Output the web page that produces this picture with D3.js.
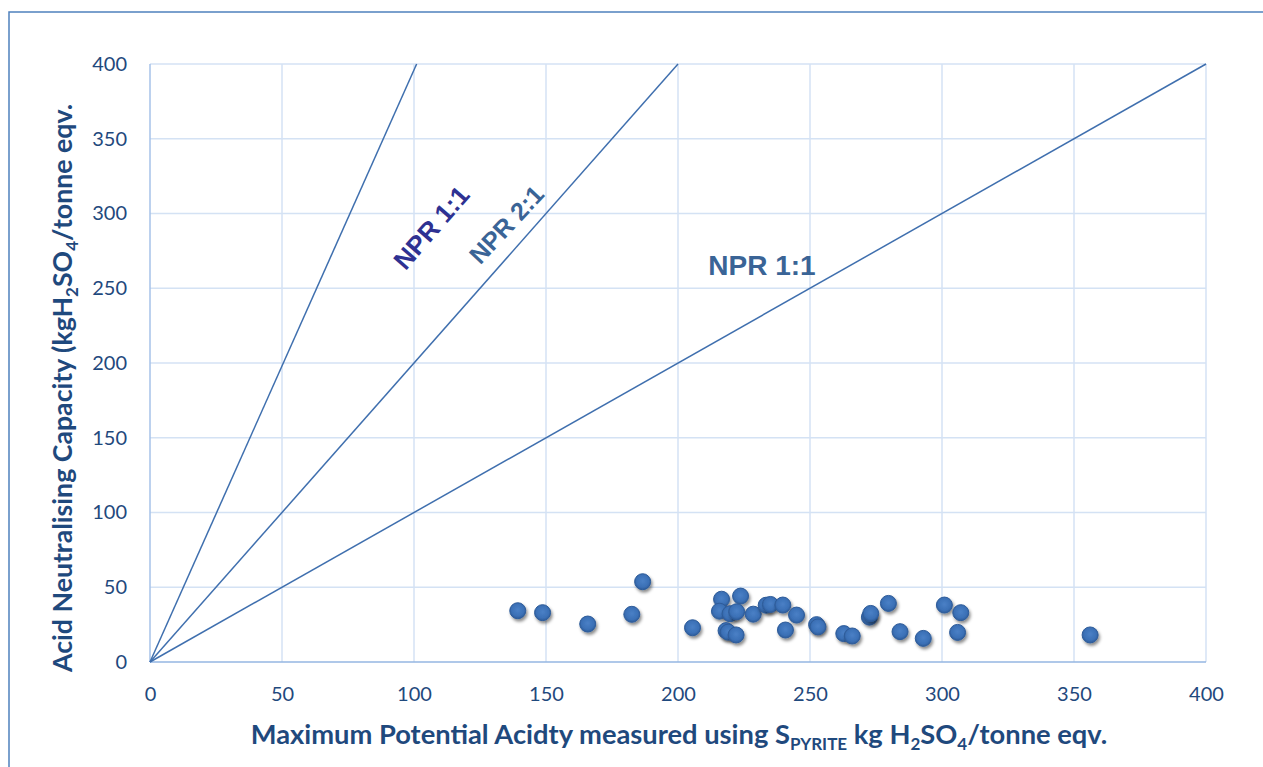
<!DOCTYPE html>
<html>
<head>
<meta charset="utf-8">
<script src="https://cdn.jsdelivr.net/npm/d3@7"></script>
<style>
  html, body { margin: 0; padding: 0; background: #fff; }
  svg { display: block; }
</style>
</head>
<body>
<script>
// ---- data ----
const mpa = [139.3,148.7,165.8,182.5,186.6,205.5,216.5,223.7,215.7,219.7,222.2,228.5,233.4,235.0,239.7,244.9,240.7,218.2,219.0,222.0,252.5,253.0,262.8,266.0,272.5,273.0,279.7,284.1,292.9,300.9,307.1,305.9,356.1];
const anc = [34.3,33.0,25.4,31.9,53.7,22.9,42.0,44.1,34.0,32.3,33.6,32.0,38.0,38.5,38.1,31.4,21.4,21.0,20.0,18.1,25.0,23.5,19.0,17.4,30.0,32.5,39.2,20.3,15.8,38.1,33.0,19.8,18.1];
const xTicks = [0,50,100,150,200,250,300,350,400];
const yTicks = [0,50,100,150,200,250,300,350,400];
const nprNames = ["NPR 1:1", "NPR 2:1", "NPR 1:1"];
const nprEndMPA = [101, 200, 400];   // MPA value where each ratio line reaches ANC = 400

const W = 1263, H = 767;
const svg = d3.select("body").append("svg").attr("width", W).attr("height", H);

const defs = svg.append("defs");
const f = defs.append("filter").attr("id","shadow").attr("x","-50%").attr("y","-50%").attr("width","200%").attr("height","200%");
f.append("feDropShadow").attr("dx",1.5).attr("dy",2.5).attr("stdDeviation",1.6).attr("flood-color","#000").attr("flood-opacity",0.45);
const g = defs.append("radialGradient").attr("id","dotg").attr("cx","50%").attr("cy","45%").attr("r","55%");
g.append("stop").attr("offset","0%").attr("stop-color","#4a80c6");
g.append("stop").attr("offset","70%").attr("stop-color","#3b70b6");
g.append("stop").attr("offset","100%").attr("stop-color","#2d5b98");

// outer frame
svg.append("rect").attr("x",9).attr("y",12).attr("width",W+20).attr("height",H+20)
  .attr("fill","none").attr("stroke","#4f81bd").attr("stroke-width",1.5);

const x = d3.scaleLinear().domain([0,400]).range([150,1206]);
const y = d3.scaleLinear().domain([0,400]).range([662,64]);

const tickColor = "#1f497d";
const font = "Lato, 'Open Sans', sans-serif";

// grid
const grid = svg.append("g");
grid.selectAll("line.v").data(xTicks.filter(d=>d>0)).join("line")
  .attr("x1",d=>x(d)).attr("x2",d=>x(d)).attr("y1",y(0)).attr("y2",y(400))
  .attr("stroke","#d4e2f4").attr("stroke-width",1.5);
grid.selectAll("line.h").data(yTicks.filter(d=>d>0)).join("line")
  .attr("x1",x(0)).attr("x2",x(400)).attr("y1",d=>y(d)).attr("y2",d=>y(d))
  .attr("stroke","#d4e2f4").attr("stroke-width",1.5);

// axes lines
svg.append("line").attr("x1",x(0)).attr("x2",x(400)).attr("y1",y(0)).attr("y2",y(0))
  .attr("stroke","#94b6e2").attr("stroke-width",1.5);
svg.append("line").attr("x1",x(0)).attr("x2",x(0)).attr("y1",y(0)).attr("y2",y(400))
  .attr("stroke","#a6c2e8").attr("stroke-width",1.5);

// axes via d3 (labels only)
const xAxis = svg.append("g").attr("transform",`translate(0,${y(0)})`)
  .call(d3.axisBottom(x).tickValues(xTicks).tickSize(0).tickPadding(25));
const yAxis = svg.append("g").attr("transform",`translate(${x(0)},0)`)
  .call(d3.axisLeft(y).tickValues(yTicks).tickSize(0).tickPadding(23));
[xAxis,yAxis].forEach(a=>{
  a.select(".domain").remove();
  a.selectAll("text").attr("fill",tickColor).style("font-family",font).style("font-size","20px");
});

// ratio lines
svg.append("g").selectAll("line").data(nprEndMPA).join("line")
  .attr("x1",x(0)).attr("y1",y(0))
  .attr("x2",d=>x(d)).attr("y2",y(400))
  .attr("stroke","#3f6fae").attr("stroke-width",1.5);

// labels for lines
const labelFont = "'Liberation Sans', Arial, sans-serif";
svg.append("text").attr("transform",`translate(433,229) rotate(-49)`)
  .attr("text-anchor","middle").attr("dominant-baseline","middle")
  .attr("fill","#2e3192").style("font-family",labelFont).style("font-weight","bold").style("font-size","26px")
  .text(nprNames[0]);
svg.append("text").attr("transform",`translate(508,226) rotate(-47)`)
  .attr("text-anchor","middle").attr("dominant-baseline","middle")
  .attr("fill","#3a6496").style("font-family",labelFont).style("font-weight","bold").style("font-size","25px")
  .text(nprNames[1]);
svg.append("text").attr("x",762).attr("y",275)
  .attr("text-anchor","middle")
  .attr("fill","#3a6496").style("font-family",labelFont).style("font-weight","bold").style("font-size","28px")
  .text(nprNames[2]);

// points
svg.append("g").selectAll("circle").data(mpa.map((v,i)=>[v,anc[i]])).join("circle")
  .attr("cx",d=>x(d[0])).attr("cy",d=>y(d[1])).attr("r",8)
  .attr("fill","url(#dotg)").attr("stroke","#2e5c9a").attr("stroke-width",1)
  .attr("filter","url(#shadow)");

// axis titles
const xt = svg.append("text").attr("x",679).attr("y",744).attr("text-anchor","middle")
  .attr("fill",tickColor).style("font-family",font).style("font-weight","bold").style("font-size","27.3px");
xt.append("tspan").text("Maximum Potential Acidty measured using S");
xt.append("tspan").attr("dy",6).style("font-size","17px").text("PYRITE");
xt.append("tspan").attr("dy",-6).text(" kg H");
xt.append("tspan").attr("dy",6).style("font-size","17px").text("2");
xt.append("tspan").attr("dy",-6).text("SO");
xt.append("tspan").attr("dy",6).style("font-size","17px").text("4");
xt.append("tspan").attr("dy",-6).text("/tonne eqv.");

const yt = svg.append("text").attr("transform","translate(72,388) rotate(-90)").attr("text-anchor","middle")
  .attr("fill",tickColor).style("font-family",font).style("font-weight","bold").style("font-size","26.7px");
yt.append("tspan").text("Acid Neutralising Capacity (kgH");
yt.append("tspan").attr("dy",6).style("font-size","17px").text("2");
yt.append("tspan").attr("dy",-6).text("SO");
yt.append("tspan").attr("dy",6).style("font-size","17px").text("4");
yt.append("tspan").attr("dy",-6).text("/tonne eqv.");
</script>
</body>
</html>
